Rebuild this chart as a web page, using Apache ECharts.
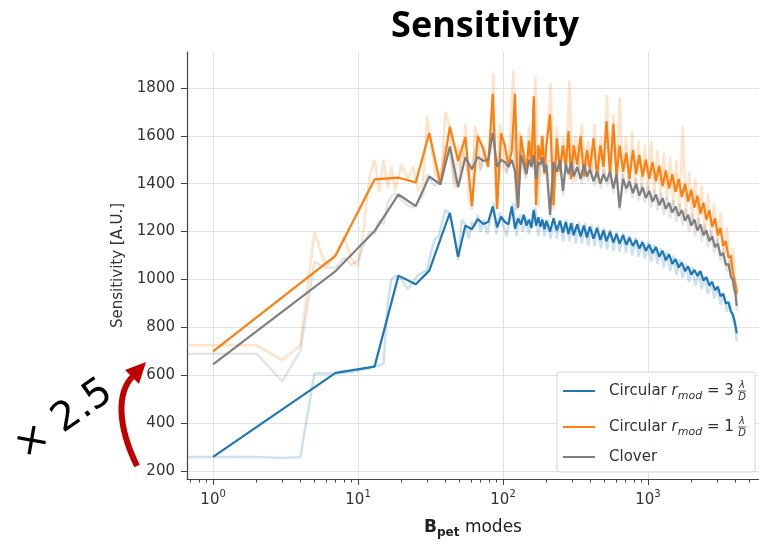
<!DOCTYPE html>
<html>
<head>
<meta charset="utf-8">
<script src="https://cdn.jsdelivr.net/npm/echarts@6/dist/echarts.min.js"></script>
<style>
  html, body { margin: 0; padding: 0; background: #fff; }
  #chart { width: 759px; height: 544px; }
</style>
</head>
<body>
<div id="chart"></div>
<script>
const chart = echarts.init(document.getElementById("chart"));

// ==========================
// DATA
// ==========================

// smoothed curves, sampled every few modes
const modes = [
  1, 7, 13, 19, 25, 31, 37, 43, 49, 55,
  61, 67, 73, 79, 85, 91, 97, 103, 109, 115,
  121, 127, 133, 139, 145, 151, 157, 163, 169, 175,
  181, 187, 193, 199, 211, 223, 235, 247, 259, 271,
  283, 295, 307, 325, 343, 361, 379, 397, 421, 445,
  469, 493, 517, 547, 577, 607, 637, 673, 709, 745,
  787, 829, 871, 919, 967, 1021, 1075, 1135, 1195, 1261,
  1327, 1399, 1471, 1549, 1627, 1711, 1801, 1891, 1987, 2089,
  2191, 2299, 2413, 2527, 2647, 2773, 2899, 3031, 3163, 3301,
  3445, 3589, 3733, 3847, 3943, 4021, 4069, 4093
];

const circ3 = [
  259, 610, 636, 1016, 980, 1037, 1168, 1278, 1095, 1225,
  1210, 1252, 1232, 1240, 1305, 1218, 1262, 1240, 1230, 1305,
  1212, 1255, 1230, 1270, 1225, 1250, 1215, 1290, 1225, 1260,
  1220, 1250, 1210, 1245, 1200, 1255, 1205, 1245, 1195, 1240,
  1190, 1235, 1185, 1230, 1180, 1225, 1175, 1220, 1170, 1215,
  1165, 1205, 1160, 1200, 1155, 1190, 1150, 1185, 1145, 1175,
  1140, 1165, 1130, 1155, 1120, 1145, 1110, 1135, 1095, 1120,
  1080, 1105, 1065, 1085, 1050, 1070, 1035, 1055, 1020, 1040,
  1015, 1035, 995, 1010, 975, 990, 955, 970, 930, 940,
  900, 905, 865, 855, 830, 805, 785, 775
];

const circ1 = [
  700, 1100, 1418, 1425, 1405, 1612, 1397, 1638, 1495, 1595,
  1306, 1600, 1545, 1470, 1775, 1295, 1610, 1560, 1470, 1540,
  1775, 1300, 1600, 1520, 1450, 1580, 1480, 1765, 1310, 1560,
  1500, 1600, 1440, 1560, 1690, 1310, 1590, 1450, 1560, 1470,
  1620, 1420, 1560, 1480, 1600, 1430, 1540, 1460, 1590, 1430,
  1560, 1470, 1660, 1440, 1650, 1430, 1560, 1450, 1530, 1420,
  1540, 1440, 1520, 1430, 1500, 1420, 1490, 1410, 1475, 1390,
  1455, 1380, 1440, 1365, 1420, 1345, 1400, 1325, 1375, 1300,
  1350, 1275, 1320, 1250, 1290, 1220, 1255, 1185, 1215, 1140,
  1160, 1090, 1100, 1030, 1030, 975, 960, 940
];

const clover = [
  645, 1035, 1202, 1355, 1306, 1430, 1397, 1555, 1386, 1510,
  1460, 1512, 1495, 1500, 1612, 1470, 1500, 1490, 1470, 1500,
  1450, 1300, 1520, 1480, 1440, 1500, 1470, 1520, 1420, 1490,
  1480, 1510, 1450, 1480, 1270, 1490, 1450, 1500, 1370, 1480,
  1440, 1490, 1430, 1470, 1420, 1480, 1430, 1460, 1410, 1450,
  1400, 1440, 1410, 1450, 1380, 1440, 1300, 1420, 1380, 1410,
  1360, 1400, 1350, 1385, 1340, 1370, 1325, 1355, 1310, 1340,
  1295, 1320, 1280, 1305, 1265, 1290, 1245, 1270, 1225, 1250,
  1205, 1230, 1185, 1205, 1160, 1180, 1135, 1150, 1100, 1110,
  1060, 1065, 1010, 1000, 960, 935, 905, 890
];

// raw (faint) curves
const modesRaw = [
  0.66, 1, 2, 3, 4, 5, 6, 7, 8, 9,
  10, 11, 12, 13, 14, 15, 16, 17, 18, 20,
  22, 24, 26, 28, 30, 32, 34, 36, 38, 40,
  43, 46, 49, 52, 55, 58, 61, 64, 67, 70,
  74, 78, 82, 86, 90, 95, 100, 106, 112, 118,
  124, 130, 137, 144, 151, 159, 167, 175, 184, 193,
  203, 213, 224, 235, 247, 260, 273, 287, 302, 317,
  333, 350, 368, 387, 407, 428, 450, 473, 497, 522,
  549, 577, 607, 638, 671, 705, 741, 779, 819, 861,
  905, 951, 1000, 1051, 1105, 1162, 1222, 1285, 1351, 1420,
  1493, 1570, 1650, 1735, 1824, 1918, 2016, 2120, 2229, 2343,
  2463, 2590, 2723, 2863, 3010, 3164, 3327, 3498, 3677, 3866,
  4000, 4064, 4096
];

const circ3Raw = [
  259, 259, 259, 254, 259, 607, 607, 607, 610, 615,
  620, 625, 630, 640, 640, 650, 900, 1000, 1015, 1000,
  960, 990, 1020, 1030, 1040, 1120, 1170, 1180, 1240, 1290,
  1275, 1200, 1080, 1250, 1230, 1170, 1240, 1220, 1270, 1200,
  1250, 1190, 1260, 1320, 1190, 1280, 1230, 1180, 1270, 1320,
  1180, 1270, 1200, 1260, 1190, 1270, 1300, 1180, 1260, 1180,
  1250, 1170, 1260, 1170, 1250, 1160, 1250, 1160, 1240, 1150,
  1240, 1150, 1235, 1140, 1230, 1140, 1225, 1130, 1215, 1125,
  1210, 1120, 1200, 1115, 1195, 1110, 1185, 1100, 1175, 1095,
  1165, 1085, 1155, 1075, 1145, 1065, 1130, 1050, 1115, 1035,
  1100, 1020, 1085, 1005, 1065, 990, 1050, 975, 1035, 960,
  1015, 940, 995, 920, 970, 895, 940, 865, 905, 830,
  800, 760, 740
];

const circ1Raw = [
  725, 725, 725, 663, 725, 1197, 1056, 1100, 1181, 1085,
  1052, 1222, 1430, 1500, 1364, 1500, 1380, 1470, 1370, 1480,
  1420, 1470, 1370, 1400, 1680, 1560, 1440, 1420, 1480, 1700,
  1640, 1380, 1560, 1420, 1650, 1350, 1290, 1640, 1600, 1450,
  1560, 1480, 1600, 1860, 1300, 1650, 1560, 1450, 1600, 1870,
  1290, 1620, 1500, 1430, 1640, 1480, 1850, 1300, 1600, 1450,
  1620, 1820, 1290, 1640, 1430, 1600, 1470, 1830, 1400, 1600,
  1450, 1650, 1420, 1580, 1440, 1650, 1400, 1600, 1430, 1770,
  1400, 1690, 1420, 1760, 1400, 1600, 1380, 1620, 1390, 1580,
  1380, 1560, 1370, 1580, 1360, 1540, 1350, 1530, 1330, 1510,
  1310, 1500, 1290, 1640, 1270, 1450, 1250, 1420, 1230, 1390,
  1200, 1360, 1180, 1320, 1150, 1280, 1100, 1220, 1050, 1130,
  990, 980, 930
];

const cloverRaw = [
  690, 690, 690, 574, 703, 1073, 1050, 1050, 1090, 1060,
  1080, 1150, 1200, 1190, 1250, 1230, 1320, 1350, 1360, 1330,
  1310, 1300, 1330, 1350, 1440, 1410, 1390, 1420, 1450, 1560,
  1520, 1420, 1380, 1540, 1500, 1430, 1470, 1540, 1500, 1460,
  1520, 1480, 1530, 1640, 1420, 1530, 1480, 1440, 1530, 1600,
  1290, 1540, 1460, 1420, 1530, 1460, 1560, 1400, 1510, 1440,
  1500, 1260, 1510, 1430, 1520, 1350, 1500, 1420, 1510, 1410,
  1490, 1400, 1500, 1410, 1480, 1390, 1470, 1380, 1460, 1390,
  1470, 1360, 1460, 1290, 1440, 1360, 1430, 1340, 1420, 1330,
  1400, 1320, 1390, 1300, 1375, 1290, 1360, 1270, 1345, 1255,
  1330, 1240, 1315, 1225, 1295, 1200, 1275, 1180, 1255, 1160,
  1230, 1135, 1205, 1110, 1170, 1075, 1130, 1030, 1080, 960,
  950, 890, 870
];

const xTicks = [1, 10, 100, 1000];
const xMinorTicks = [
  0.7, 0.8, 0.9, 2, 3, 4, 5, 6, 7, 8, 9,
  20, 30, 40, 50, 60, 70, 80, 90,
  200, 300, 400, 500, 600, 700, 800, 900,
  2000, 3000, 4000, 5000
];
const yTicks = [200, 400, 600, 800, 1000, 1200, 1400, 1600, 1800];

// ==========================
// STYLE
// ==========================

const BLUE = "#1f77b4";
const ORANGE = "#ff7f0e";
const GRAY = "#7f7f7f";
const FONT = "DejaVu Sans";
const X_MIN = 0.661;
const X_MAX = 5830;

const pairs = (xs, ys) => xs.map((x, i) => [x, ys[i]]);

function line(name, xs, ys, color, width, opacity) {
  return {
    name,
    type: "line",
    data: pairs(xs, ys),
    showSymbol: false,
    symbol: "none",
    sampling: false,
    lineStyle: { color, width, opacity },
    emphasis: { disabled: true },
    silent: true
  };
}

const legendRich = {
  t: { fontFamily: FONT, fontSize: 15, fill: "#333", lineHeight: 22 },
  i: { fontFamily: FONT, fontSize: 15, fontStyle: "italic", fill: "#333", lineHeight: 22 },
  s: { fontFamily: FONT, fontSize: 11, fontStyle: "italic", fill: "#333", lineHeight: 14, verticalAlign: "bottom" }
};

// small lambda / D fraction next to a legend row
function fraction(cy) {
  return [
    { type: "text", z: 101, style: { x: 742, y: cy - 6, align: "center", verticalAlign: "middle", text: "λ", fontFamily: FONT, fontSize: 10, fontStyle: "italic", fill: "#333" } },
    { type: "line", z: 101, shape: { x1: 738, y1: cy, x2: 746, y2: cy }, style: { stroke: "#333", lineWidth: 0.8 } },
    { type: "text", z: 101, style: { x: 742, y: cy + 6, align: "center", verticalAlign: "middle", text: "D", fontFamily: FONT, fontSize: 10, fontStyle: "italic", fill: "#333" } }
  ];
}

// ==========================
// OPTION
// ==========================

chart.setOption({
  animation: false,
  title: {
    text: "Sensitivity",
    left: 480,
    textAlign: "center",
    top: 4,
    textStyle: {
      fontFamily: "Open Sans",
      fontWeight: "bold",
      fontSize: 36,
      color: "#000"
    }
  },
  grid: { left: 187, right: 0, top: 52, bottom: 63 },
  xAxis: [
    {
      type: "log",
      min: X_MIN,
      max: X_MAX,
      name: "{b|B}{s|pet}{m| modes}",
      nameLocation: "middle",
      nameGap: 38,
      nameTextStyle: {
        rich: {
          b: { fontFamily: FONT, fontWeight: "bold", fontSize: 17, color: "#222" },
          s: { fontFamily: FONT, fontWeight: "bold", fontSize: 12, color: "#222", verticalAlign: "bottom", lineHeight: 14 },
          m: { fontFamily: FONT, fontSize: 17, color: "#222" }
        },
        lineHeight: 22
      },
      axisLine: { show: true, lineStyle: { color: "#444", width: 1.2 } },
      axisTick: { show: true, customValues: xTicks, length: 6, lineStyle: { color: "#444" } },
      axisLabel: {
        customValues: xTicks,
        margin: 10,
        formatter: v => "{n|10}{e|" + Math.round(Math.log10(v)) + "}",
        rich: {
          n: { fontFamily: FONT, fontSize: 15, color: "#333", lineHeight: 22 },
          e: { fontFamily: FONT, fontSize: 10, color: "#333", verticalAlign: "top", lineHeight: 14 }
        }
      },
      splitLine: { show: true, lineStyle: { color: "#e2e2e2", width: 1 } }
    },
    {
      type: "log",
      min: X_MIN,
      max: X_MAX,
      position: "bottom",
      axisLine: { show: false },
      axisLabel: { show: false },
      splitLine: { show: false },
      axisTick: { show: true, customValues: xMinorTicks, length: 3.5, lineStyle: { color: "#444" } }
    }
  ],
  yAxis: {
    type: "value",
    min: 166.7,
    max: 1950,
    name: "Sensitivity [A.U.]",
    nameLocation: "middle",
    nameGap: 58,
    nameTextStyle: { fontFamily: FONT, fontSize: 15, color: "#333" },
    axisLine: { show: true, lineStyle: { color: "#444", width: 1.2 } },
    axisTick: { show: true, customValues: yTicks, length: 6, lineStyle: { color: "#444" } },
    axisLabel: {
      customValues: yTicks,
      margin: 12,
      formatter: v => String(v),
      fontFamily: FONT,
      fontSize: 15,
      color: "#333"
    },
    splitLine: { show: true, lineStyle: { color: "#e2e2e2", width: 1 } }
  },
  series: [
    line("c3raw", modesRaw, circ3Raw, BLUE, 2.5, 0.22),
    line("c1raw", modesRaw, circ1Raw, ORANGE, 2.5, 0.22),
    line("clraw", modesRaw, cloverRaw, GRAY, 2.5, 0.2),
    line("c3", modes, circ3, BLUE, 2.2, 1),
    line("c1", modes, circ1, ORANGE, 2.2, 1),
    line("clover", modes, clover, GRAY, 2.2, 1)
  ],
  graphic: [
    // legend
    {
      type: "rect",
      shape: { x: 557, y: 372, width: 198, height: 100, r: 3 },
      style: { fill: "rgba(255,255,255,0.85)", stroke: "#d4d4d4", lineWidth: 1 },
      z: 100
    },
    { type: "line", shape: { x1: 563, y1: 391, x2: 595, y2: 391 }, style: { stroke: BLUE, lineWidth: 2 }, z: 101 },
    { type: "line", shape: { x1: 563, y1: 427, x2: 595, y2: 427 }, style: { stroke: ORANGE, lineWidth: 2 }, z: 101 },
    { type: "line", shape: { x1: 563, y1: 457, x2: 595, y2: 457 }, style: { stroke: GRAY, lineWidth: 2 }, z: 101 },
    {
      type: "text", z: 101,
      style: { x: 609, y: 391, verticalAlign: "middle", text: "{t|Circular }{i|r}{s|mod}{t| = 3}", rich: legendRich }
    },
    {
      type: "text", z: 101,
      style: { x: 609, y: 427, verticalAlign: "middle", text: "{t|Circular }{i|r}{s|mod}{t| = 1}", rich: legendRich }
    },
    {
      type: "text", z: 101,
      style: { x: 609, y: 457, verticalAlign: "middle", text: "Clover", fontFamily: FONT, fontSize: 15, fill: "#333" }
    },
    ...fraction(391),
    ...fraction(427),
    // x 2.5 annotation
    {
      type: "text", z: 101,
      x: 64, y: 420, rotation: 35 * Math.PI / 180,
      style: { x: 0, y: 0, align: "center", verticalAlign: "middle", text: "× 2.5", fontFamily: FONT, fontSize: 40, fill: "#000" }
    },
    {
      type: "bezierCurve", z: 101,
      shape: { x1: 137, y1: 466, cpx1: 117, cpy1: 425, cpx2: 117, cpy2: 392, x2: 133, y2: 376 },
      style: { stroke: "#c00000", lineWidth: 6, fill: null }
    },
    {
      type: "polygon", z: 101,
      shape: { points: [[146, 362], [125, 370], [139, 384]] },
      style: { fill: "#c00000" }
    }
  ]
});
</script>
</body>
</html>
